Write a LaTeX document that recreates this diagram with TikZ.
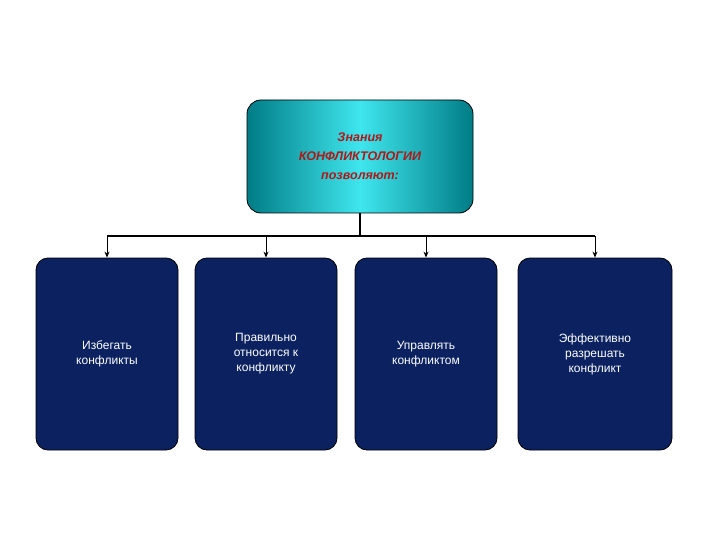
\documentclass[tikz,border=0pt]{standalone}
\usepackage{fontspec}
\setmainfont{Liberation Sans}
\usetikzlibrary{arrows.meta}
\definecolor{navy}{HTML}{0B2160}
\definecolor{tealD}{HTML}{007C86}
\definecolor{tealL}{HTML}{3FE6EE}
\definecolor{redt}{HTML}{B01818}
\begin{document}
\begin{tikzpicture}[x=1pt,y=-1pt,
  bluebox/.style={draw=black,line width=0.8pt,fill=navy,rounded corners=12pt,text=white,align=center,font=\fontsize{12}{15}\selectfont},
  topbox/.style={draw=black,line width=0.8pt,rounded corners=14pt,left color=tealD,right color=tealD,middle color=tealL,text=redt,align=center,font=\fontsize{12.5}{19}\selectfont\bfseries\itshape},
  link/.style={line width=1.2pt},
  arr/.style={line width=1pt,-{Stealth[length=6pt,width=5pt]}}]
\useasboundingbox (0,0) rectangle (720,540);
\node[topbox,minimum width=226pt,minimum height=113pt] (top) at (360,156.5) {Знания\\КОНФЛИКТОЛОГИИ\\позволяют:};
\node[bluebox,minimum width=142pt,minimum height=192pt] (b1) at (107,354) {Избегать\\конфликты};
\node[bluebox,minimum width=142pt,minimum height=192pt] (b2) at (266,354) {Правильно\\относится  к\\конфликту};
\node[bluebox,minimum width=142pt,minimum height=192pt] (b3) at (426,354) {Управлять\\конфликтом};
\node[bluebox,minimum width=154pt,minimum height=192pt] (b4) at (595,354) {Эффективно\\разрешать\\конфликт};
\coordinate (j) at (360,236);
\draw[link] (top.south) -- (j);
\draw[link] (b1.north |- j) -- (b4.north |- j);
\foreach \b in {b1,b2,b3,b4} \draw[arr] (\b.north |- j) -- (\b.north);
\end{tikzpicture}
\end{document}
